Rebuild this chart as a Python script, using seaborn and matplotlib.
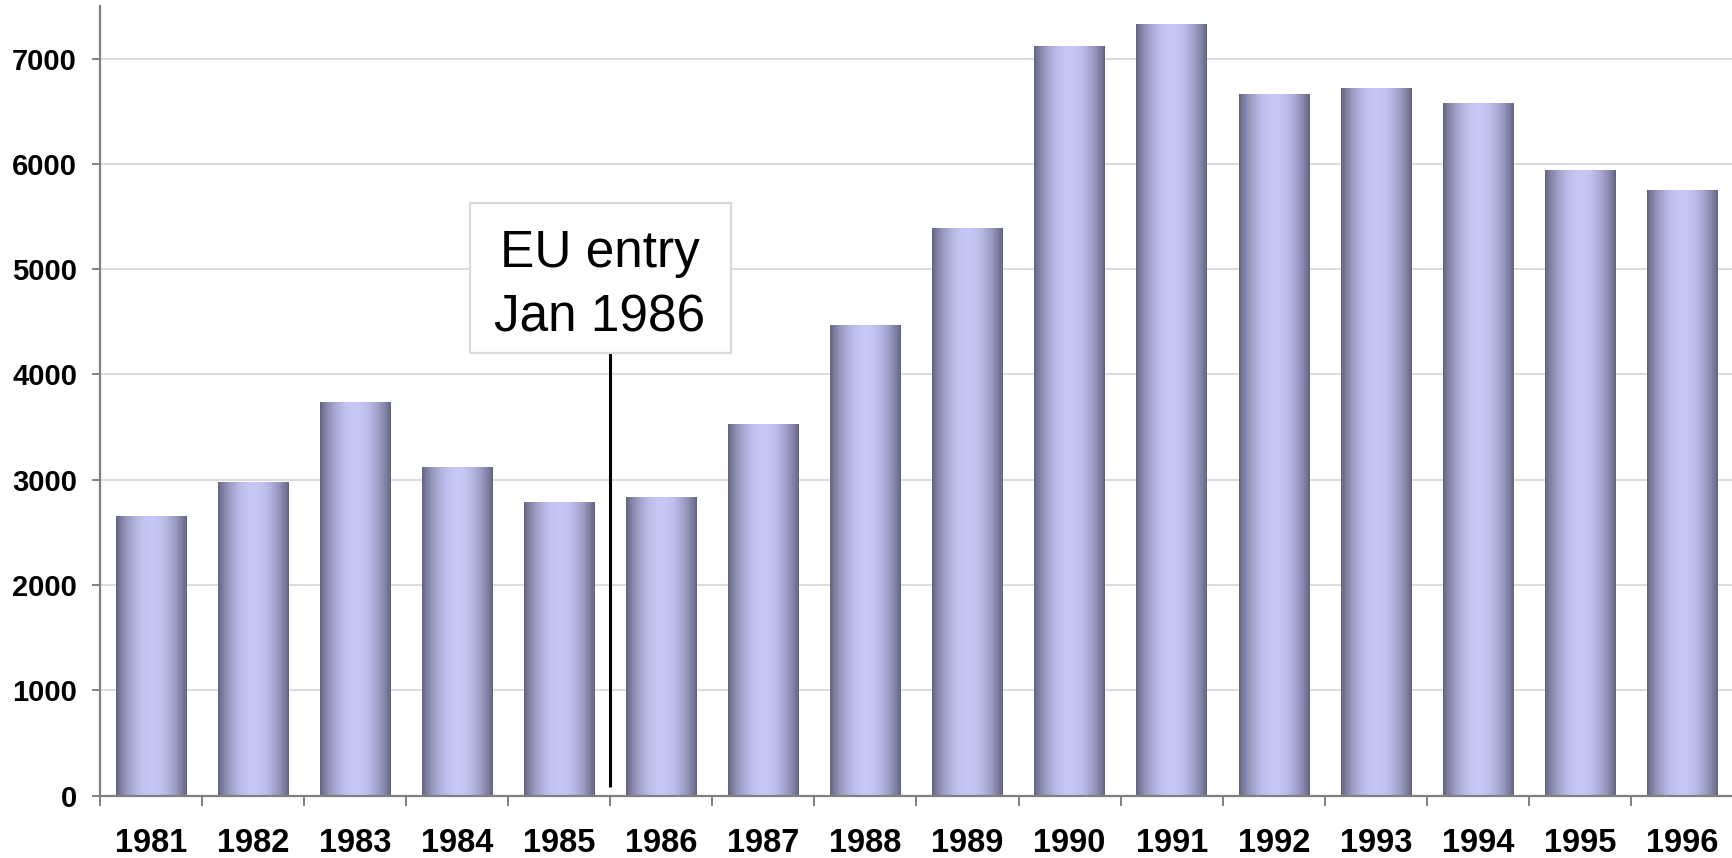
import numpy as np
import pandas as pd
import matplotlib
matplotlib.use("Agg")
import matplotlib.pyplot as plt
from matplotlib.patches import Rectangle
import seaborn as sns

# Annual values, 1981-1996
years = ["1981", "1982", "1983", "1984", "1985", "1986", "1987", "1988",
         "1989", "1990", "1991", "1992", "1993", "1994", "1995", "1996"]
values = [2655, 2980, 3740, 3120, 2790, 2830, 3530, 4470,
          5390, 7120, 7330, 6660, 6720, 6580, 5940, 5750]
y_ticks = [0, 1000, 2000, 3000, 4000, 5000, 6000, 7000]
note_text = "EU entry\nJan 1986"

sns.set_theme(style="white")
plt.rcParams["font.family"] = ["Liberation Sans", "DejaVu Sans"]

df = pd.DataFrame({"year": years, "value": values})

fig = plt.figure(figsize=(17.33, 8.58), dpi=100)
ax = fig.add_axes([0.0577, 0.0726, 0.9423, 0.9205])

sns.barplot(data=df, x="year", y="value", width=0.69, color="#9090c0",
            ax=ax, zorder=2)

# Replace flat fill with a horizontal cylinder-style shading
edge_rgb = np.array([96, 96, 126]) / 255.0
mid_rgb = np.array([200, 200, 248]) / 255.0
t = np.linspace(0, 1, 256)
f = np.sin(np.pi * t) ** 0.8
grad = edge_rgb[None, :] + (mid_rgb - edge_rgb)[None, :] * f[:, None]
grad = grad[None, :, :]
for p in list(ax.patches):
    x0, w, h = p.get_x(), p.get_width(), p.get_height()
    p.set_facecolor("none")
    p.set_edgecolor("none")
    ax.imshow(grad, extent=[x0, x0 + w, 0, h], aspect="auto",
              interpolation="bilinear", zorder=2)

ax.set_xlim(-0.5, 15.416)
ax.set_ylim(0, 7500)
ax.set_yticks(y_ticks)
ax.set_xlabel("")
ax.set_ylabel("")

# Grid and axes styling
ax.yaxis.grid(True, color="#d9d9d9", linewidth=1.3, zorder=0)
ax.xaxis.grid(False)
ax.set_axisbelow(True)
for side in ("top", "right"):
    ax.spines[side].set_visible(False)
for side in ("left", "bottom"):
    ax.spines[side].set_color("#808080")
    ax.spines[side].set_linewidth(1.6)
    ax.spines[side].set_zorder(3)

ax.tick_params(axis="y", which="major", direction="out", length=5.5,
               width=1.4, color="#808080", pad=11, left=True)
ax.tick_params(axis="x", which="major", length=0, pad=23, bottom=True)
ax.set_xticks(np.arange(-0.5, 16, 1.0), minor=True)
ax.tick_params(axis="x", which="minor", direction="out", length=7.5,
               width=1.4, color="#808080", bottom=True)

for lab in ax.get_yticklabels():
    lab.set_fontsize(21)
    lab.set_fontweight("bold")
    lab.set_color("black")
for lab in ax.get_xticklabels():
    lab.set_fontsize(23.5)
    lab.set_fontweight("bold")
    lab.set_color("black")

# Annotation: marker line and callout box
ax.plot([4.5, 4.5], [80, 4201], color="black", linewidth=2.2, zorder=4,
        solid_capstyle="butt")
ax.add_patch(Rectangle((3.13, 4201), 5.679 - 3.13, 5626 - 4201,
                       facecolor="white", edgecolor="#dadada",
                       linewidth=1.6, zorder=5))
ax.text(4.395, 4840, note_text, ha="center", va="center", fontsize=37,
        linespacing=1.4, color="black", zorder=6)

fig.savefig("out.png", dpi=100)
